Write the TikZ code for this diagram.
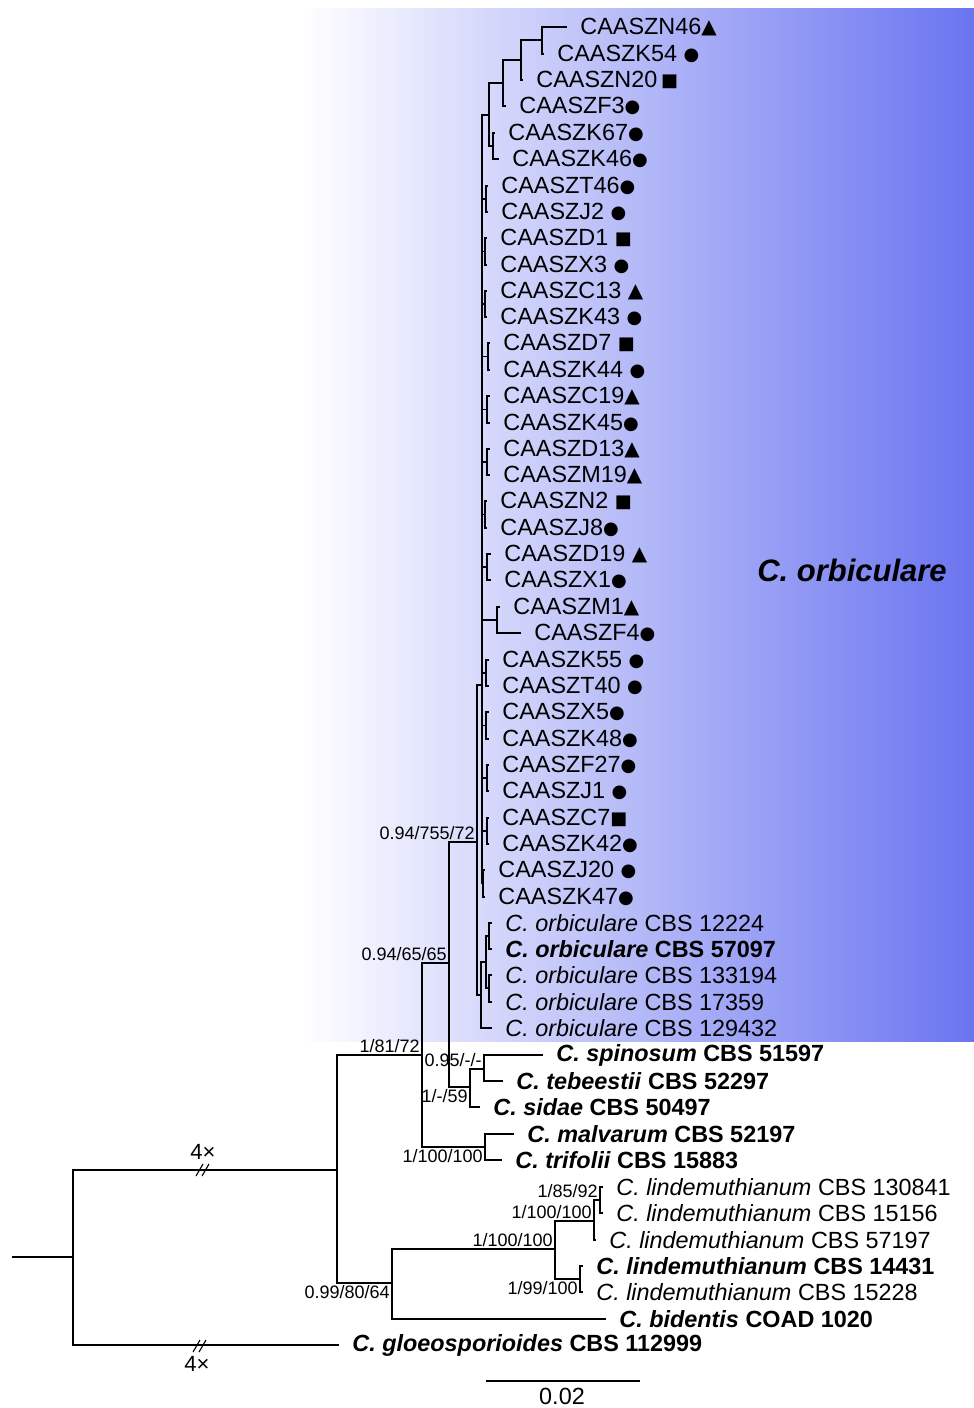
\documentclass[tikz,border=0pt]{standalone}
\usepackage{fontspec}
\setmainfont{Liberation Sans}
\newfontfamily\symfont{DejaVu Sans}
\usetikzlibrary{positioning}

\definecolor{orbblue}{RGB}{106,116,240}
\newcommand{\mkcirc}{{\symfont\fontsize{9}{10}\selectfont\raisebox{0.7pt}{●}}}
\newcommand{\mksq}{{\symfont\fontsize{9}{10}\selectfont\raisebox{0.7pt}{■}}}
\newcommand{\mktri}{{\symfont\fontsize{10}{10}\selectfont\raisebox{0.3pt}{▲}}}
\newcommand{\spname}[1]{\textit{#1}}
\newcommand{\bspname}[1]{\textbf{\textit{#1}}}

\begin{document}
\begin{tikzpicture}[
    x=0.5pt, y=-0.5pt,
    branch/.style={line width=0.55pt},
    leaf/.style={anchor=west, inner xsep=6.5pt, inner ysep=0pt, font=\fontsize{11.7}{12}\selectfont},
    support/.style={inner sep=1pt, font=\fontsize{9}{10}\selectfont},
    breakmark/.style={line width=0.55pt}
]
  \useasboundingbox (0,0) rectangle (974,1408);
  \shade[left color=white, right color=orbblue] (300,8) rectangle (974,1041);
  \node[font=\bfseries\itshape\fontsize{15.5}{16}\selectfont] (clade) at (852,570) {C. orbiculare};

  % top of the CAASZ clade
  \coordinate (n1) at (542,40);
  \coordinate (n2) at (521,60);
  \coordinate (n3) at (503,83);
  \coordinate (n4) at (493,146);
  \coordinate (n5) at (489,115);
  \node[leaf] (N46) at (567,27) {CAASZN46\mktri};
  \node[leaf] (K54) at (544,54) {CAASZK54 \mkcirc};
  \node[leaf] (N20) at (523,80) {CAASZN20\,\mksq};
  \node[leaf] (F3) at (506,106) {CAASZF3\mkcirc};
  \node[leaf] (K67) at (495,133) {CAASZK67\mkcirc};
  \node[leaf] (K46) at (499,159) {CAASZK46\mkcirc};
  \draw[branch] (n1) |- (N46.west);
  \draw[branch] (n1) |- (K54.west);
  \draw[branch] (n2) |- (n1);
  \draw[branch] (n2) |- (N20.west);
  \draw[branch] (n3) |- (n2);
  \draw[branch] (n3) |- (F3.west);
  \draw[branch] (n4) |- (K67.west);
  \draw[branch] (n4) |- (K46.west);
  \draw[branch] (n5) |- (n3);
  \draw[branch] (n5) |- (n4);

  % backbone of the CAASZ clade
  \coordinate (k) at (482,685);
  \draw[branch] (k) |- (n5);
  \foreach \n/\px/\ex/\ya/\yb/\la/\lb in {
      p1/486/488/186/212/{CAASZT46\mkcirc}/{CAASZJ2 \mkcirc},
      p2/485/487/238/265/{CAASZD1 \mksq}/{CAASZX3 \mkcirc},
      p3/485/487/291/317/{CAASZC13 \mktri}/{CAASZK43 \mkcirc},
      p4/488/490/343/370/{CAASZD7 \mksq}/{CAASZK44 \mkcirc},
      p5/487/490/396/423/{CAASZC19\mktri}/{CAASZK45\mkcirc},
      p6/487/490/449/475/{CAASZD13\mktri}/{CAASZM19\mktri},
      p7/485/487/501/528/{CAASZN2 \mksq}/{CAASZJ8\mkcirc},
      p8/487/491/554/580/{CAASZD19 \mktri}/{CAASZX1\mkcirc},
      p10/486/489/660/686/{CAASZK55 \mkcirc}/{CAASZT40 \mkcirc},
      p11/486/489/712/739/{CAASZX5\mkcirc}/{CAASZK48\mkcirc},
      p12/487/489/765/791/{CAASZF27\mkcirc}/{CAASZJ1 \mkcirc},
      p13/487/489/818/844/{CAASZC7\mksq}/{CAASZK42\mkcirc},
      p14/483/485/870/897/{CAASZJ20 \mkcirc}/{CAASZK47\mkcirc}} {
    \coordinate (\n) at (\px,{(\ya+\yb)/2});
    \node[leaf] (\n-a) at (\ex,\ya) {\la};
    \node[leaf] (\n-b) at (\ex,\yb) {\lb};
    \draw[branch] (\n) |- (\n-a.west);
    \draw[branch] (\n) |- (\n-b.west);
    \draw[branch] (k) |- (\n);
  }
  \coordinate (p9) at (497,620);
  \node[leaf] (M1) at (500,607) {CAASZM1\mktri};
  \node[leaf] (F4) at (521,633) {CAASZF4\mkcirc};
  \draw[branch] (p9) |- (M1.west);
  \draw[branch] (p9) |- (F4.west);
  \draw[branch] (k) |- (p9);

  % C. orbiculare strains
  \coordinate (o) at (481,995);
  \coordinate (o12) at (486,962);
  \coordinate (o1) at (489,936);
  \coordinate (o2) at (489,988);
  \node[leaf] (orb1) at (492,923) {\spname{C. orbiculare} CBS 12224};
  \node[leaf] (orb2) at (492,949) {\bspname{C. orbiculare} \textbf{CBS 57097}};
  \node[leaf] (orb3) at (492,975) {\spname{C. orbiculare} CBS 133194};
  \node[leaf] (orb4) at (492,1002) {\spname{C. orbiculare} CBS 17359};
  \node[leaf] (orb5) at (492,1028) {\spname{C. orbiculare} CBS 129432};
  \draw[branch] (o1) |- (orb1.west);
  \draw[branch] (o1) |- (orb2.west);
  \draw[branch] (o2) |- (orb3.west);
  \draw[branch] (o2) |- (orb4.west);
  \draw[branch] (o12) |- (o1);
  \draw[branch] (o12) |- (o2);
  \draw[branch] (o) |- (o12);
  \draw[branch] (o) |- (orb5.west);

  % deeper nodes
  \coordinate (d1) at (477,842);
  \coordinate (d2) at (470,1087);
  \coordinate (e1) at (484,1069);
  \coordinate (c1) at (449,963);
  \coordinate (c2) at (485,1147);
  \coordinate (b1) at (422,1055);
  \coordinate (b2) at (392,1283);
  \coordinate (a1) at (337,1170);
  \coordinate (r) at (73,1257);
  \coordinate (root) at (12,1257);
  \draw[branch] (d1) |- (k);
  \draw[branch] (d1) |- (o);

  \node[leaf] (spin) at (543,1055) {\bspname{C. spinosum} \textbf{CBS 51597}};
  \node[leaf] (tebe) at (503,1081) {\bspname{C. tebeestii} \textbf{CBS 52297}};
  \node[leaf] (sida) at (480,1107) {\bspname{C. sidae} \textbf{CBS 50497}};
  \node[leaf] (malv) at (514,1134) {\bspname{C. malvarum} \textbf{CBS 52197}};
  \node[leaf] (trif) at (502,1160) {\bspname{C. trifolii} \textbf{CBS 15883}};
  \draw[branch] (e1) |- (spin.west);
  \draw[branch] (e1) |- (tebe.west);
  \draw[branch] (d2) |- (e1);
  \draw[branch] (d2) |- (sida.west);
  \draw[branch] (c1) |- (d1);
  \draw[branch] (c1) |- (d2);
  \draw[branch] (c2) |- (malv.west);
  \draw[branch] (c2) |- (trif.west);
  \draw[branch] (b1) |- (c1);
  \draw[branch] (b1) |- (c2);

  % C. lindemuthianum group
  \coordinate (h1) at (600,1200);
  \coordinate (g1) at (594,1221);
  \coordinate (g2) at (580,1279);
  \coordinate (f1) at (555,1249);
  \node[leaf] (lin1) at (603,1187) {\spname{C. lindemuthianum} CBS 130841};
  \node[leaf] (lin2) at (603,1213) {\spname{C. lindemuthianum} CBS 15156};
  \node[leaf] (lin3) at (596,1240) {\spname{C. lindemuthianum} CBS 57197};
  \node[leaf] (lin4) at (583,1266) {\bspname{C. lindemuthianum} \textbf{CBS 14431}};
  \node[leaf] (lin5) at (583,1292) {\spname{C. lindemuthianum} CBS 15228};
  \node[leaf] (bide) at (606,1319) {\bspname{C. bidentis} \textbf{COAD 1020}};
  \node[leaf] (gloe) at (339,1345) {\bspname{C. gloeosporioides} \textbf{CBS 112999}};
  \draw[branch] (h1) |- (lin1.west);
  \draw[branch] (h1) |- (lin2.west);
  \draw[branch] (g1) |- (h1);
  \draw[branch] (g1) |- (lin3.west);
  \draw[branch] (g2) |- (lin4.west);
  \draw[branch] (g2) |- (lin5.west);
  \draw[branch] (f1) |- (g1);
  \draw[branch] (f1) |- (g2);
  \draw[branch] (b2) |- (f1);
  \draw[branch] (b2) |- (bide.west);
  \draw[branch] (a1) |- (b1);
  \draw[branch] (a1) |- (b2);
  \draw[branch] (r) |- (a1);
  \draw[branch] (r) |- (gloe.west);
  \draw[branch] (root) -- (r);

  % shortened branches
  \draw[breakmark] (196,1176) -- (203,1164) (202,1176) -- (209,1164);
  \draw[breakmark] (193,1352) -- (200,1340) (199,1352) -- (206,1340);
  \node[font=\fontsize{11}{12}\selectfont] (cut1) at (203,1152) {4×};
  \node[font=\fontsize{11}{12}\selectfont] (cut2) at (197,1364) {4×};

  % support values
  \node[support, anchor=south east] (s1) at (d1) {0.94/755/72};
  \node[support, anchor=south east] (s2) at (c1) {0.94/65/65};
  \node[support, anchor=south east] (s3) at (b1) {1/81/72};
  \node[support, anchor=south east] (s4) at (e1) {0.95/-/-};
  \node[support, anchor=north east] (s5) at (d2) {1/-/59};
  \node[support, anchor=north east] (s6) at (c2) {1/100/100};
  \node[support, anchor=south east] (s7) at (h1) {1/85/92};
  \node[support, anchor=south east] (s8) at (g1) {1/100/100};
  \node[support, anchor=south east] (s9) at (f1) {1/100/100};
  \node[support, anchor=north east] (s10) at (g2) {1/99/100};
  \node[support, anchor=north east] (s11) at (b2) {0.99/80/64};

  % scale bar
  \coordinate (bar1) at (486,1381);
  \coordinate (bar2) at (640,1381);
  \draw[branch] (bar1) -- (bar2);
  \node[font=\fontsize{11.7}{12}\selectfont] (barlab) at (562,1396) {0.02};
\end{tikzpicture}
\end{document}
